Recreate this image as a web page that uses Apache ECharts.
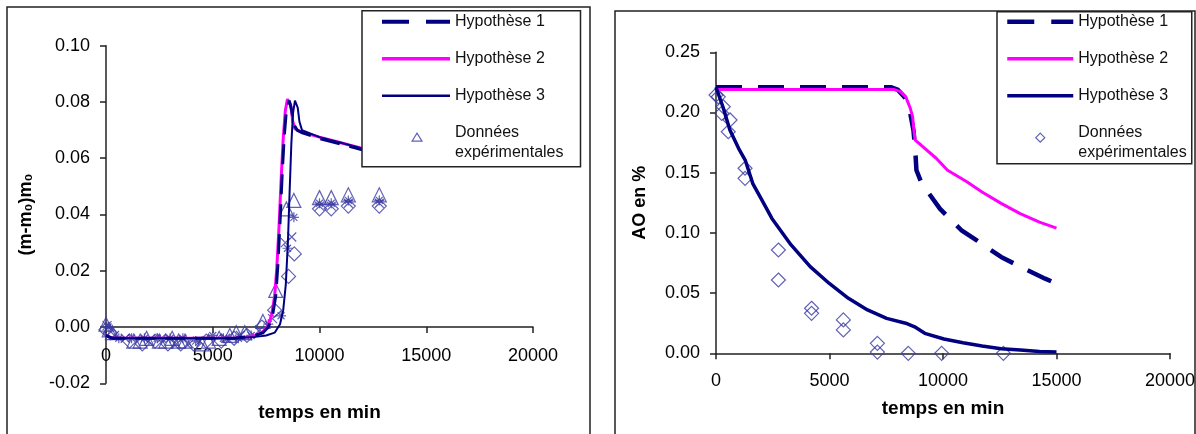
<!DOCTYPE html>
<html><head><meta charset="utf-8">
<script src="https://cdn.jsdelivr.net/npm/echarts@6/dist/echarts.min.js"></script>
<style>html,body{margin:0;padding:0;background:#fff;}#c{width:1196px;height:434px;}</style>
</head><body><div id="c"></div>
<script>
// ---------- shared ----------
const xTicks = [0, 5000, 10000, 15000, 20000];
const leftYTicks = [-0.02, 0, 0.02, 0.04, 0.06, 0.08, 0.10];
const rightYTicks = [0, 0.05, 0.10, 0.15, 0.20, 0.25];
const names = ['Hypothèse 1', 'Hypothèse 2', 'Hypothèse 3', 'Données expérimentales'];
const xTitle = 'temps en min';
const leftYTitle = '(m-m₀)m₀';
const rightYTitle = 'AO en %';

// ---------- left chart: (m-m0)/m0 ----------
const massHyp1 = [[0,-0.003],[300,-0.004],[6000,-0.004],[6600,-0.0035],[7000,-0.003],[7350,-0.002],[7600,0.0],[7800,0.004],[7950,0.011],[8050,0.022],[8150,0.037],[8250,0.054],[8350,0.068],[8450,0.077],[8580,0.0805],[8700,0.077],[8800,0.072],[8950,0.070],[9200,0.069],[10000,0.067],[11000,0.065],[12000,0.063],[13000,0.0615],[14000,0.060],[15000,0.0585]];
const massHyp2 = [[0,-0.003],[300,-0.004],[6000,-0.004],[6600,-0.0035],[7000,-0.003],[7300,-0.002],[7550,0.0],[7750,0.004],[7900,0.011],[8000,0.021],[8100,0.035],[8200,0.052],[8300,0.067],[8400,0.077],[8500,0.081],[8550,0.0815],[8650,0.079],[8750,0.073],[8850,0.0705],[9100,0.0695],[10000,0.0675],[11000,0.0655],[12000,0.0635],[13000,0.062],[14000,0.0605],[15000,0.059]];
const massHyp3 = [[0,-0.003],[300,-0.004],[6000,-0.004],[7000,-0.0035],[7500,-0.003],[7900,-0.002],[8150,0.001],[8300,0.006],[8420,0.015],[8520,0.030],[8600,0.048],[8680,0.065],[8760,0.076],[8850,0.0805],[8900,0.081],[8980,0.078],[9060,0.073],[9180,0.070],[10000,0.0675],[11000,0.0655],[12000,0.0635],[13000,0.062],[14000,0.0605],[15000,0.059]];
const massExpTri = [[0,0.001],[150,-0.001],[300,-0.002],[1300,-0.005],[1600,-0.005],[1900,-0.004],[2500,-0.005],[2800,-0.005],[3100,-0.004],[3400,-0.005],[3700,-0.005],[4500,-0.006],[4800,-0.005],[5300,-0.004],[5800,-0.003],[6100,-0.002],[6500,-0.002],[7350,0.002],[7950,0.013],[8450,0.042],[8800,0.045],[10000,0.046],[10550,0.046],[11350,0.047],[12800,0.047]];
const massExpDiamond = [[0,-0.001],[200,-0.002],[1100,-0.005],[1700,-0.006],[2300,-0.005],[2900,-0.006],[3500,-0.006],[4100,-0.006],[4700,-0.005],[5400,-0.005],[6000,-0.004],[6600,-0.003],[7300,0.0],[7900,0.006],[8550,0.018],[8820,0.026],[10000,0.042],[10550,0.042],[11350,0.043],[12800,0.043]];
const massExpStar = [[100,0.0],[600,-0.004],[1200,-0.004],[1800,-0.004],[2400,-0.004],[3000,-0.004],[3600,-0.004],[4200,-0.005],[5000,-0.003],[5500,-0.004],[6200,-0.004],[6800,-0.003],[7600,0.001],[8200,0.004],[8500,0.028],[8800,0.039],[10000,0.044],[10550,0.044],[11350,0.045],[12800,0.045]];
const massExpCross = [[50,0.0005],[400,-0.003],[900,-0.004],[2000,-0.005],[2600,-0.004],[3300,-0.006],[3900,-0.006],[4400,-0.005],[5600,-0.004],[6300,-0.003],[7200,-0.001],[7800,0.003],[8400,0.030],[8700,0.032],[10000,0.043],[10550,0.043],[11350,0.044],[12800,0.044]];

// ---------- right chart: AO en % ----------
const aoHyp1 = [[0,0.221],[7700,0.221],[8000,0.219],[8300,0.213],[8550,0.200],[8700,0.185],[8780,0.168],[8830,0.152],[9030,0.1425],[9370,0.133],[9870,0.120],[10800,0.1024],[11470,0.094],[12560,0.080],[13400,0.072],[14500,0.062],[15000,0.058]];
const aoHyp2 = [[0,0.219],[7850,0.219],[8100,0.2175],[8360,0.213],[8550,0.204],[8660,0.1965],[8720,0.185],[8775,0.177],[9030,0.173],[9700,0.162],[10200,0.152],[11050,0.1425],[11720,0.134],[12560,0.1245],[13400,0.116],[14250,0.109],[15000,0.104]];
const aoHyp3 = [[0,0.221],[300,0.205],[612,0.1855],[1000,0.170],[1286,0.1605],[1621,0.141],[2000,0.128],[2463,0.112],[3308,0.090],[4150,0.072],[4991,0.058],[5833,0.0457],[6674,0.036],[7515,0.029],[8357,0.025],[8750,0.022],[9198,0.0166],[10040,0.0119],[10881,0.0088],[11722,0.006],[12563,0.0038],[13405,0.0027],[14247,0.0015],[15000,0.001]];
const aoExp = [[0,0.2145],[100,0.213],[250,0.1993],[320,0.2048],[540,0.184],[620,0.1938],[1280,0.1537],[1280,0.1453],[2750,0.0858],[2750,0.0609],[4210,0.0374],[4210,0.0332],[5610,0.0277],[5610,0.0194],[7110,0.0083],[7110,0.001],[8470,0],[9940,0],[12660,0]];

// ---------- styles ----------
const FONT = "'Liberation Sans', Arial, sans-serif";
const NAVY = '#000080', MAGENTA = '#ff00ff', MARK = '#3a3aa2';
const AXIS = '#222';
const STAR = 'path://M5,0L5,10M0,5L10,5M1.5,1.5L8.5,8.5M8.5,1.5L1.5,8.5';
const CROSS = 'path://M0,0L10,10M10,0L0,10';
// legend icons: invisible corner points keep the icon box at itemWidth x itemHeight
const LEG_TRI = 'path://M0,0M68,20M30,8.5L35,0.5L40,8.5Z';
const LEG_DIA = 'path://M0,0M66,20M33,0.5L37.5,5L33,9.5L28.5,5Z';

function xAxisCfg(grid, gap, margin) {
  return {
    gridIndex: grid, type: 'value', min: xTicks[0], max: xTicks[xTicks.length - 1],
    interval: xTicks[1] - xTicks[0],
    axisLine: { onZero: true, lineStyle: { color: AXIS, width: 1.5 } },
    axisTick: { length: 6, lineStyle: { color: AXIS, width: 1.5 } },
    axisLabel: { margin: margin, fontSize: 18, color: '#000', fontFamily: FONT, formatter: v => String(v) },
    splitLine: { show: false },
    name: xTitle, nameLocation: 'middle', nameGap: gap,
    nameTextStyle: { fontWeight: 'bold', fontSize: 19, color: '#000', fontFamily: FONT }
  };
}
function yAxisCfg(grid, ticks, title, gap) {
  return {
    gridIndex: grid, type: 'value', min: ticks[0], max: ticks[ticks.length - 1],
    interval: +(ticks[1] - ticks[0]).toFixed(4),
    axisLine: { onZero: false, lineStyle: { color: AXIS, width: 1.5 } },
    axisTick: { length: 6, lineStyle: { color: AXIS, width: 1.5 } },
    axisLabel: { margin: 16, fontSize: 18, color: '#000', fontFamily: FONT, formatter: v => v.toFixed(2) },
    splitLine: { show: false },
    name: title, nameLocation: 'middle', nameGap: gap, nameRotate: 90,
    nameTextStyle: { fontWeight: 'bold', fontSize: 18, color: '#000', fontFamily: FONT }
  };
}
function lineS(name, data, g, color, width, type, z) {
  return { name, type: 'line', xAxisIndex: g, yAxisIndex: g, data, symbol: 'none', showSymbol: false, z: z,
    lineStyle: { color, width, type: type || 'solid' }, itemStyle: { color }, animation: false };
}
function scatS(data, g, symbol, size, z) {
  return { name: names[3], type: 'scatter', xAxisIndex: g, yAxisIndex: g, data, symbol, symbolSize: size, z: z || 2,
    itemStyle: { color: 'transparent', borderColor: MARK, borderWidth: 1.2 }, animation: false };
}
const noSym = { color: 'transparent', borderColor: 'transparent', borderWidth: 0, opacity: 0 };
function legendCfg(left, top, padding, itemWidth, icon4, w1, w2, w3, dash) {
  return {
    orient: 'vertical', left, top, padding, itemWidth, itemHeight: 20, itemGap: 17,
    borderColor: '#222', borderWidth: 1.5, backgroundColor: '#fff', borderRadius: 0,
    selectedMode: false, z: 10, symbolKeepAspect: false,
    textStyle: { fontSize: 16, lineHeight: 20, color: '#111', fontFamily: FONT },
    formatter: n => n === names[3] ? 'Données\nexpérimentales' : n,
    data: [
      { name: names[0], lineStyle: { width: w1, type: dash, color: NAVY, opacity: 1 }, itemStyle: noSym },
      { name: names[1], lineStyle: { width: w2, color: MAGENTA, opacity: 1 }, itemStyle: noSym },
      { name: names[2], lineStyle: { width: w3, color: NAVY, opacity: 1 }, itemStyle: noSym },
      { name: names[3], icon: icon4, itemStyle: { color: 'transparent', borderColor: MARK, borderWidth: 1.2 } }
    ]
  };
}

const option = {
  backgroundColor: '#fff',
  animation: false,
  graphic: [
    { type: 'rect', silent: true, z: 0, shape: { x: 7, y: 7, width: 583, height: 440 }, style: { fill: 'none', stroke: '#222', lineWidth: 1.5 } },
    { type: 'rect', silent: true, z: 0, shape: { x: 615, y: 11, width: 580, height: 440 }, style: { fill: 'none', stroke: '#222', lineWidth: 1.5 } }
  ],
  grid: [
    { left: 106, top: 45.7, width: 427, height: 337.6, containLabel: false, outerBoundsMode: 'none' },
    { left: 716, top: 52.3, width: 454, height: 301, containLabel: false, outerBoundsMode: 'none' }
  ],
  xAxis: [xAxisCfg(0, 20, -36), xAxisCfg(1, 46, 19)],
  yAxis: [yAxisCfg(0, leftYTicks, leftYTitle, 71), yAxisCfg(1, rightYTicks, rightYTitle, 67)],
  legend: [
    legendCfg(362, 10.7, [1, 17, 4, 18], 68, LEG_TRI, 4, 3.5, 2.5, [27, 17]),
    legendCfg(997, 11.7, [0, 5, 1, 8], 66, LEG_DIA, 4.5, 3.5, 3.5, [27, 17])
  ],
  series: [
    scatS(massExpTri, 0, 'triangle', 14),
    scatS(massExpDiamond, 0, 'diamond', 14),
    scatS(massExpStar, 0, STAR, 10),
    scatS(massExpCross, 0, CROSS, 9),
    lineS(names[1], massHyp2, 0, MAGENTA, 3, 'solid', 3),
    lineS(names[0], massHyp1, 0, NAVY, 3, [20, 10], 4),
    lineS(names[2], massHyp3, 0, NAVY, 2, 'solid', 5),
    scatS(aoExp, 1, 'diamond', 14),
    lineS(names[0], aoHyp1, 1, NAVY, 4.5, [26, 16], 3),
    lineS(names[1], aoHyp2, 1, MAGENTA, 3, 'solid', 4),
    lineS(names[2], aoHyp3, 1, NAVY, 3.5, 'solid', 5)
  ]
};
const chart = echarts.init(document.getElementById('c'), null, { renderer: 'canvas' });
chart.setOption(option);
</script>
</body></html>
